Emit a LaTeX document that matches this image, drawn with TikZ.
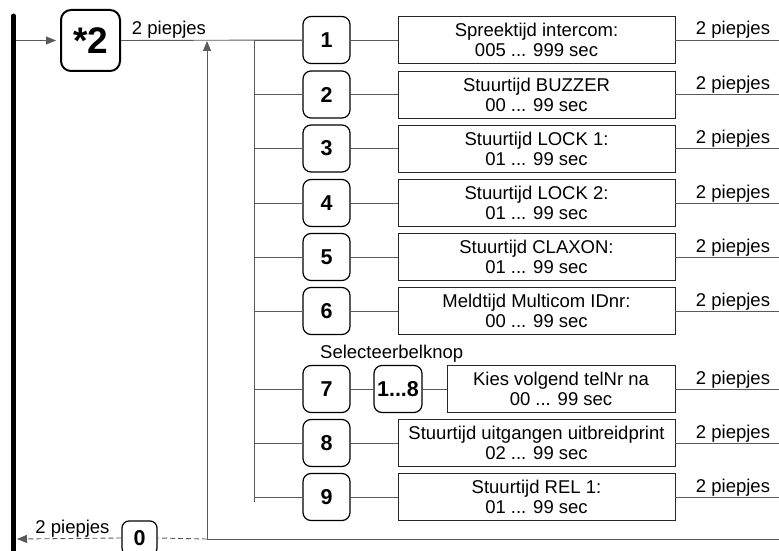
\documentclass[tikz,border=0pt]{standalone}
\usepackage{fontspec}
\setmainfont{Liberation Sans}
\usetikzlibrary{arrows.meta}
\definecolor{lin}{HTML}{5A5A5A}
\begin{document}
\begin{tikzpicture}[x=1pt,y=-1pt,
 numbox/.style={draw=black, line width=1.2pt, rounded corners=8pt, minimum width=47pt, minimum height=47pt, inner sep=0pt, font=\fontsize{21.5}{24}\selectfont\bfseries},
 txtbox/.style={draw=black!85, line width=0.9pt, minimum width=277pt, minimum height=47pt, inner sep=0pt, align=center, font=\fontsize{18.5}{20}\selectfont},
 conn/.style={draw=lin, line width=0.9pt},
 tip/.style={-{Triangle[length=10pt,width=8pt]}},
 lbl/.style={font=\fontsize{18.5}{20}\selectfont, inner sep=0pt, anchor=base}]
\useasboundingbox (0,0) rectangle (779,551);
% thick bar
\coordinate (bartop) at (13.5,16);
\coordinate (barbot) at (13.5,560);
\draw[line width=5pt, line cap=round] (bartop) -- (barbot);
% start box
\node[draw=black, line width=2pt, rounded corners=10pt, minimum width=59pt, minimum height=61pt, inner sep=0pt, font=\fontsize{37}{40}\selectfont\bfseries] (s2) at (90.5,40.5) {*2};
\coordinate (barout) at (16,40.5);
\draw[conn, tip, shorten >=4pt] (barout) -- (s2.west);
\node[lbl] (toplbl) at (169,35) {2 piepjes};
% number boxes
\foreach \i/\y in {1/40,2/94.5,3/148.5,4/203,5/257,6/311,7/389,8/443,9/497}{
  \node[numbox] (n\i) at (326.5,\y) {\i};
  \coordinate (b\i) at (254,\y);
  \draw[conn] (b\i) -- (n\i.west);
}
\draw[conn] (s2.east) -- (n1.west);
\coordinate (brtop) at (254,40);
\coordinate (brbot) at (254,502);
\draw[conn] (brtop) -- (brbot);
% text boxes
\foreach \i/\y/\t in {1/40/{Spreektijd intercom:\\005 ... 999 sec},
  2/94.5/{Stuurtijd BUZZER\\00 ... 99 sec},
  3/148.5/{Stuurtijd LOCK 1:\\01 ... 99 sec},
  4/203/{Stuurtijd LOCK 2:\\01 ... 99 sec},
  5/257/{Stuurtijd CLAXON:\\01 ... 99 sec},
  6/311/{Meldtijd Multicom IDnr:\\00 ... 99 sec},
  8/443/{Stuurtijd uitgangen uitbreidprint\\02 ... 99 sec},
  9/497/{Stuurtijd REL 1:\\01 ... 99 sec}}{
  \node[txtbox] (t\i) at (536.5,\y) {\t};
  \draw[conn] (n\i.east) -- (t\i.west);
}
% row 7
\node[anchor=base west, inner sep=0pt, font=\fontsize{18.5}{20}\selectfont] (sel) at (320,358) {Selecteerbelknop};
\node[numbox, minimum width=48pt] (k18) at (398,389) {1...8};
\node[txtbox, minimum width=228pt] (t7) at (561,389) {Kies volgend telNr na\\00 ... 99 sec};
\draw[conn] (n7.east) -- (k18.west);
\draw[conn] (k18.east) -- (t7.west);
% right outputs
\foreach \i/\y in {1/40,2/94.5,3/148.5,4/203,5/257,6/311,7/389,8/443,9/497}{
  \coordinate (r\i) at (779,\y);
  \draw[conn] (t\i.east) -- (r\i);
  \node[lbl] (p\i) at (733,\y-5) {2 piepjes};
}
% bottom return
\coordinate (ret) at (207,539);
\coordinate (retend) at (779,539);
\coordinate (up) at (207,41);
\draw[conn] (ret) -- (retend);
\draw[conn, tip] (ret) -- (up);
\node[draw=black, line width=1.2pt, rounded corners=7pt, minimum width=35pt, minimum height=34pt, inner sep=0pt, font=\fontsize{21.5}{24}\selectfont\bfseries] (z0) at (139.5,538) {0};
\draw[conn, dash pattern=on 5pt off 3pt] (ret) -- (z0.east);
\coordinate (barin) at (17,539);
\draw[conn, tip, dash pattern=on 5pt off 3pt] (z0.west) -- (barin);
\node[lbl] (botlbl) at (72.5,533) {2 piepjes};
\end{tikzpicture}
\end{document}
